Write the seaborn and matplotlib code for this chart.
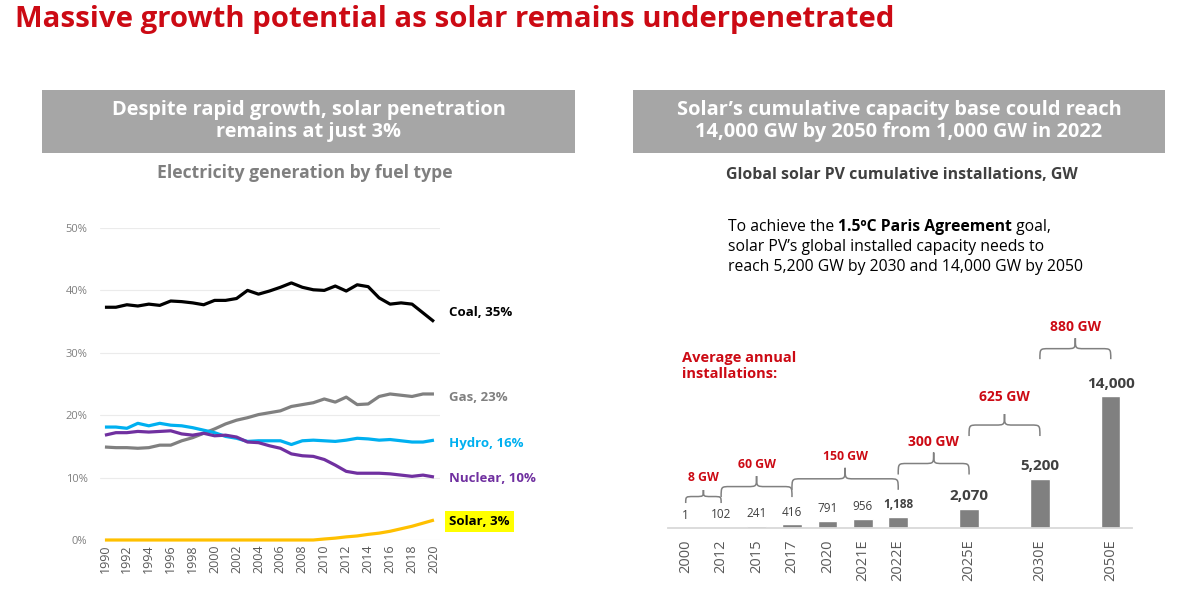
import numpy as np
import pandas as pd
import matplotlib
matplotlib.use("Agg")
import matplotlib.pyplot as plt
from matplotlib.patches import Rectangle, PathPatch
from matplotlib.path import Path
import seaborn as sns

# ---------------- data ----------------
years = list(range(1990, 2021))
coal = [37.3, 37.3, 37.7, 37.5, 37.8, 37.6, 38.3, 38.2, 38.0, 37.7, 38.4, 38.4, 38.7, 40.0, 39.4, 39.9,
        40.5, 41.2, 40.5, 40.1, 40.0, 40.7, 39.9, 40.9, 40.6, 38.8, 37.8, 38.0, 37.8, 36.4, 35.0]
gas = [14.9, 14.8, 14.8, 14.7, 14.8, 15.2, 15.2, 15.9, 16.4, 17.1, 17.8, 18.6, 19.2, 19.6, 20.1, 20.4,
       20.7, 21.4, 21.7, 22.0, 22.6, 22.1, 22.9, 21.7, 21.8, 23.0, 23.4, 23.2, 23.0, 23.4, 23.4]
hydro = [18.1, 18.1, 17.9, 18.7, 18.3, 18.7, 18.4, 18.3, 18.0, 17.6, 17.2, 16.6, 16.3, 15.8, 15.9, 15.9,
         15.9, 15.3, 15.9, 16.0, 15.9, 15.8, 16.0, 16.3, 16.2, 16.0, 16.1, 15.9, 15.7, 15.7, 16.0]
nuclear = [16.8, 17.2, 17.2, 17.4, 17.3, 17.4, 17.5, 17.0, 16.8, 17.1, 16.7, 16.8, 16.5, 15.7, 15.6, 15.1,
           14.7, 13.8, 13.5, 13.4, 12.9, 12.0, 11.0, 10.7, 10.7, 10.7, 10.6, 10.4, 10.2, 10.4, 10.1]
solar = [0.0, 0.0, 0.0, 0.0, 0.0, 0.0, 0.0, 0.0, 0.0, 0.0, 0.0, 0.0, 0.0, 0.0, 0.0, 0.0,
         0.0, 0.0, 0.0, 0.0, 0.16, 0.3, 0.5, 0.65, 0.9, 1.1, 1.4, 1.8, 2.2, 2.7, 3.2]
sources = ["Coal", "Gas", "Hydro", "Nuclear", "Solar"]
year_ticks = list(range(1990, 2021, 2))
pct_ticks = [0, 10, 20, 30, 40, 50]

bar_categories = ["2000", "2012", "2015", "2017", "2020", "2021E", "2022E", "2025E", "2030E", "2050E"]
bar_values = [1, 102, 241, 416, 791, 956, 1188, 2070, 5200, 14000]
bar_labels = ["1", "102", "241", "416", "791", "956", "1,188", "2,070", "5,200", "14,000"]
brace_labels = ["8 GW", "60 GW", "150 GW", "300 GW", "625 GW", "880 GW"]
brace_spans = [("2000", "2012"), ("2012", "2017"), ("2017", "2022E"),
               ("2022E", "2025E"), ("2025E", "2030E"), ("2030E", "2050E")]

# ---------------- style ----------------
sns.set_theme(style="white")
plt.rcParams["font.family"] = ["Open Sans", "DejaVu Sans"]

W, H = 1178, 590
fig = plt.figure(figsize=(W / 100, H / 100), dpi=100)


def fx(px):
    return px / W


def fy(py):
    return 1 - py / H


RED = "#CC0A14"
HDR = "#A6A6A6"

fig.text(fx(15), fy(20), "Massive growth potential as solar remains underpenetrated",
         color=RED, fontsize=21.2, fontweight="bold", va="center", ha="left")

# header boxes
for (x0, x1, lines) in [(42, 575, "Despite rapid growth, solar penetration\nremains at just 3%"),
                        (633, 1165, "Solar\u2019s cumulative capacity base could reach\n14,000 GW by 2050 from 1,000 GW in 2022")]:
    fig.patches.append(Rectangle((fx(x0), fy(153)), fx(x1 - x0), (153 - 90) / H,
                                 transform=fig.transFigure, facecolor=HDR, edgecolor="none"))
    fig.text(fx((x0 + x1) / 2), fy(121), lines, color="white", fontsize=14.4, fontweight="bold",
             ha="center", va="center", linespacing=1.1)

fig.text(fx(305), fy(173), "Electricity generation by fuel type", color="#7F7F7F",
         fontsize=12.6, fontweight="bold", ha="center", va="center")
fig.text(fx(902), fy(175), "Global solar PV cumulative installations, GW", color="#404040",
         fontsize=11.4, fontweight="bold", ha="center", va="center")

# ---------------- left: line chart ----------------
ax1 = fig.add_axes([fx(100), fy(540), (440 - 100) / W, (540 - 228) / H])
df = pd.DataFrame({"year": years, "Coal": coal, "Gas": gas, "Hydro": hydro,
                   "Nuclear": nuclear, "Solar": solar})
long = df.melt(id_vars="year", var_name="source", value_name="share")
palette = {"Coal": "#000000", "Gas": "#808080", "Hydro": "#00B0F0",
           "Nuclear": "#7030A0", "Solar": "#FFC000"}
sns.lineplot(data=long, x="year", y="share", hue="source", hue_order=sources,
             palette=palette, linewidth=2.3, legend=False, ax=ax1)
for ln in ax1.lines:
    ln.set_clip_on(False)
    ln.set_solid_capstyle("butt")
ax1.set_xlim(1989.55, 2020.55)
ax1.set_ylim(0, 50)
ax1.set_yticks(pct_ticks)
ax1.set_yticklabels([f"{v}%" for v in pct_ticks], fontsize=8, color="#7F7F7F")
ax1.set_xticks(year_ticks)
ax1.set_xticklabels([str(y) for y in year_ticks], rotation=90, fontsize=9, color="#595959")
ax1.tick_params(axis="y", length=0, pad=9)
ax1.tick_params(axis="x", length=0, pad=3)
ax1.yaxis.grid(True, color="#EBEBEB", linewidth=0.8)
ax1.set_axisbelow(True)
for s in ax1.spines.values():
    s.set_visible(False)
ax1.set_xlabel("")
ax1.set_ylabel("")

label_dy = {"Coal": 1.4, "Gas": -0.5, "Hydro": -0.5, "Nuclear": -0.2, "Solar": -0.3}
for name in sources:
    last = df[name].iloc[-1]
    kw = {}
    if name == "Solar":
        kw["bbox"] = dict(boxstyle="square,pad=0.3", facecolor="#FFFF00", edgecolor="none")
    ax1.annotate(f"{name}, {round(last)}%", xy=(years[-1], last + label_dy[name]),
                 xytext=(11, 0), textcoords="offset points", va="center", ha="left",
                 fontsize=9.5, fontweight="bold", color=palette[name] if name != "Solar" else "black",
                 annotation_clip=False, **kw)

# ---------------- right: bar chart ----------------
order = ["2000", "2012", "2015", "2017", "2020", "2021E", "2022E", " ", "2025E", "  ", "2030E", "   ", "2050E"]
ax2 = fig.add_axes([fx(668), fy(528), (1132 - 668) / W, (528 - 302) / H])
bdf = pd.DataFrame({"cat": bar_categories, "val": bar_values})
sns.barplot(data=bdf, x="cat", y="val", order=order, color="#808080", saturation=1,
            width=0.55, ax=ax2)
ax2.set_xlim(-0.5, 12.6)
ax2.set_ylim(0, 24000)
ax2.set_yticks([])
ax2.set_xlabel("")
ax2.set_ylabel("")
for k in ["top", "right", "left"]:
    ax2.spines[k].set_visible(False)
ax2.spines["bottom"].set_color("#D9D9D9")
ax2.spines["bottom"].set_linewidth(1.3)
ax2.set_xticks(range(len(order)))
ax2.set_xticklabels(order, rotation=90, fontsize=10.5, color="#595959")
ax2.tick_params(axis="x", length=0, pad=8)

pos = {c: i for i, c in enumerate(order)}
val_of = dict(zip(bar_categories, bar_values))
ppu = ((528 - 302)) / 24000.0  # pixels per data unit


def px2d(px):
    return px / ppu


for c, v, lab in zip(bar_categories, bar_values, bar_labels):
    big = v >= 2000
    mid = v >= 1000
    ax2.annotate(lab, xy=(pos[c], v), xytext=(0, 4), textcoords="offset points",
                 ha="center", va="bottom", color="#404040",
                 fontsize=11 if big else 8.5,
                 fontweight="bold" if mid else "normal", annotation_clip=False)

# braces
brace_pad_px = [24, 27, 27, 34, 43, 37]
brace_h_px = [13, 21, 22, 22, 22, 21]
label_gap_px = [6, 5, 5, 4, 10, 4]
for (a, b), lab, pad, hpx, gap in zip(brace_spans, brace_labels, brace_pad_px, brace_h_px, label_gap_px):
    x0, x1 = pos[a], pos[b]
    top_bar = max(val_of[a], val_of[b])
    y0 = top_bar + px2d(pad)
    h = px2d(hpx)
    ym = y0 + 0.5 * h
    yt = y0 + h
    xm = (x0 + x1) / 2
    q = min(0.26, 0.22 * (x1 - x0))
    verts = [(x0, y0), (x0, ym), (x0, ym), (x0 + q, ym),
             (xm - q, ym),
             (xm, ym), (xm, ym), (xm, yt),
             (xm, ym), (xm, ym), (xm + q, ym),
             (x1 - q, ym),
             (x1, ym), (x1, ym), (x1, y0)]
    codes = [Path.MOVETO, Path.CURVE4, Path.CURVE4, Path.CURVE4,
             Path.LINETO,
             Path.CURVE4, Path.CURVE4, Path.CURVE4,
             Path.CURVE4, Path.CURVE4, Path.CURVE4,
             Path.LINETO,
             Path.CURVE4, Path.CURVE4, Path.CURVE4]
    ax2.add_patch(PathPatch(Path(verts, codes), facecolor="none", edgecolor="#808080",
                            linewidth=1.1, clip_on=False))
    ax2.text(xm, yt + px2d(gap), lab, ha="center", va="bottom", color=RED,
             fontsize=10 if top_bar >= 2000 else 8.8, fontweight="bold", clip_on=False)

fig.text(fx(682), fy(366), "Average annual\ninstallations:", color=RED, fontsize=10.5,
         fontweight="bold", ha="left", va="center", linespacing=1.1)

# paragraph with mixed weights
renderer = fig.canvas.get_renderer()
para = [[("To achieve the ", "normal"), ("1.5\u00baC Paris Agreement", "bold"), (" goal,", "normal")],
        [("solar PV\u2019s global installed capacity needs to", "normal")],
        [("reach 5,200 GW by 2030 and 14,000 GW by 2050", "normal")]]
line_y = [227, 247, 267]
for parts, ly in zip(para, line_y):
    xcur = fx(728)
    for txt, wt in parts:
        t = fig.text(xcur, fy(ly), txt, fontsize=11.3, fontweight=wt, color="black",
                     ha="left", va="center")
        bb = t.get_window_extent(renderer=renderer)
        xcur = bb.x1 / fig.bbox.width

fig.savefig("out.png", dpi=100)
